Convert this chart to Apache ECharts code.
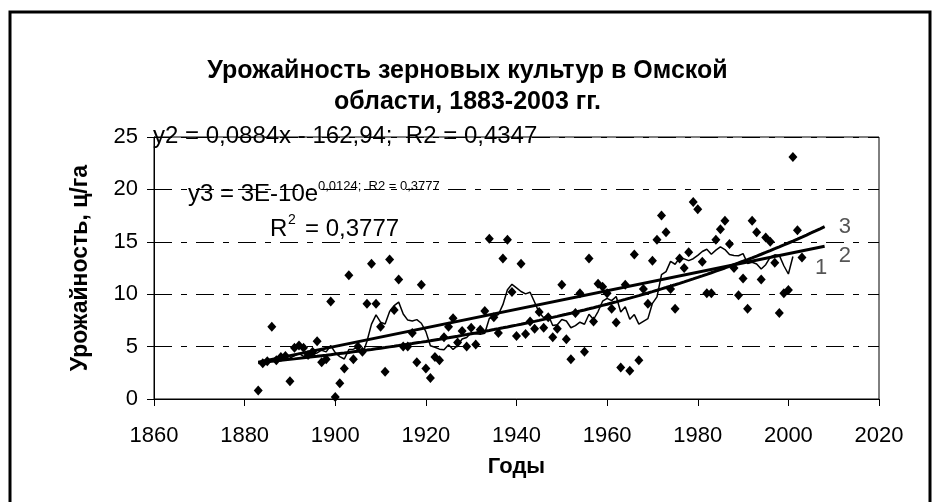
<!DOCTYPE html>
<html>
<head>
<meta charset="utf-8">
<script src="https://cdn.jsdelivr.net/npm/echarts@6/dist/echarts.min.js"></script>
<style>
  html, body { margin: 0; padding: 0; background: #fff; }
  #chart { width: 935px; height: 502px; }
</style>
</head>
<body>
<div id="chart"></div>
<script>
// Grain yield in Omsk region, 1883-2003 (centner per hectare)
const firstYear = 1883;
const yields = [
  // 1883-1889
  0.8, 3.4, 3.6, 6.9, 3.7, 4.0, 4.1,
  // 1890s
  1.7, 4.9, 5.1, 4.9, 4.2, 4.5, 5.5, 3.5, 3.8, 9.3,
  // 1900s
  0.2, 1.5, 2.9, 11.8, 3.8, 5.0, 4.5, 9.1, 12.9, 9.1,
  // 1910s
  6.9, 2.6, 13.3, 8.5, 11.4, 5.0, 5.0, 6.3, 3.5, 10.9,
  // 1920s
  2.9, 2.0, 4.0, 3.7, 5.9, 6.9, 7.7, 5.4, 6.5, 5.0,
  // 1930s
  6.8, 5.2, 6.6, 8.4, 15.3, 7.8, 6.3, 13.4, 15.2, 10.2,
  // 1940s
  6.0, 12.9, 6.2, 7.4, 6.7, 8.3, 6.8, 7.8, 5.9, 6.7,
  // 1950s
  10.9, 5.7, 3.8, 8.2, 10.1, 4.5, 13.4, 7.4, 11.0, 10.7,
  // 1960s
  10.1, 8.6, 7.3, 3.0, 10.9, 2.7, 13.8, 3.7, 10.5, 9.1,
  // 1970s
  13.2, 15.2, 17.5, 15.9, 10.5, 8.6, 13.4, 12.5, 14.0, 18.8,
  // 1980s
  18.1, 13.1, 10.1, 10.1, 15.2, 16.2, 17.0, 14.8, 12.5, 9.9,
  // 1990s
  11.5, 8.6, 17.0, 15.9, 11.4, 15.4, 15.0, 13.0, 8.2, 10.1,
  // 2000-2003
  10.4, 23.1, 16.1, 13.5
];
const years = yields.map((_, i) => firstYear + i);

// Trend settings
const linearCoef = [0.0884, -162.94];     // y = k*x + b, as printed on the chart
const trendRange = [1883, 2008];          // fitted range plus 5-year forecast
const maPeriod = 7;                       // trailing 7-year moving average
const maLastYear = 2001;

const xTicks = [1860, 2020, 20];
const yTicks = [0, 25, 5];

// --- derived series -------------------------------------------------------
const points = years.map((y, i) => [y, yields[i]]);

const movingAvg = [];
for (let i = maPeriod - 1; i < yields.length && years[i] <= maLastYear; i++) {
  let s = 0;
  for (let j = i - maPeriod + 1; j <= i; j++) s += yields[j];
  movingAvg.push([years[i], s / maPeriod]);
}

const linearTrend = trendRange.map(x => [x, linearCoef[0] * x + linearCoef[1]]);

// exponential least-squares fit on ln(y)
const meanX = years.reduce((a, b) => a + b, 0) / years.length;
const lnY = yields.map(v => Math.log(v));
const meanL = lnY.reduce((a, b) => a + b, 0) / lnY.length;
let sxy = 0, sxx = 0;
years.forEach((x, i) => { sxy += (x - meanX) * (lnY[i] - meanL); sxx += (x - meanX) * (x - meanX); });
const expRate = sxy / sxx;
const expTrend = [];
for (let x = trendRange[0]; x <= trendRange[1]; x++) {
  expTrend.push([x, Math.exp(meanL + expRate * (x - meanX))]);
}

// --- chart ----------------------------------------------------------------
const FONT = "'Liberation Sans', Arial, sans-serif";
const chart = echarts.init(document.getElementById('chart'), null, { renderer: 'canvas' });

chart.setOption({
  animation: false,
  backgroundColor: '#fff',
  textStyle: { fontFamily: FONT, color: '#000' },
  title: {
    text: 'Урожайность зерновых культур в Омской\nобласти, 1883-2003 гг.',
    left: 'center',
    top: 56,
    padding: 0,
    textStyle: { fontFamily: FONT, fontSize: 25, fontWeight: 'bold', color: '#000', lineHeight: 31 }
  },
  grid: {
    left: 154, top: 137, right: 56, bottom: 103,
    show: true, borderColor: '#000', borderWidth: 1, backgroundColor: 'transparent',
    outerBoundsMode: 'none'
  },
  xAxis: {
    type: 'value',
    min: xTicks[0], max: xTicks[1], interval: xTicks[2],
    name: 'Годы',
    nameLocation: 'middle',
    nameGap: 57,
    nameTextStyle: { fontFamily: FONT, fontSize: 22, fontWeight: 'bold', color: '#000' },
    axisLine: { show: true, onZero: false, lineStyle: { color: '#000', width: 1 } },
    axisTick: { show: true, inside: false, length: 7, lineStyle: { color: '#000' } },
    axisLabel: { fontFamily: FONT, fontSize: 22, color: '#000', margin: 26, formatter: v => String(v) },
    splitLine: { show: false }
  },
  yAxis: {
    type: 'value',
    min: yTicks[0], max: yTicks[1], interval: yTicks[2],
    name: 'Урожайность, ц/га',
    nameLocation: 'middle',
    nameGap: 62,
    nameTextStyle: { fontFamily: FONT, fontSize: 23, fontWeight: 'bold', color: '#000' },
    axisLine: { show: true, lineStyle: { color: '#000', width: 1 } },
    axisTick: { show: true, inside: false, length: 7, lineStyle: { color: '#000' } },
    axisLabel: { fontFamily: FONT, fontSize: 22, color: '#000', margin: 16 },
    splitLine: { show: true, lineStyle: { color: '#000', width: 1, type: [18, 9, 6, 9] } }
  },
  series: [
    {
      name: 'yield',
      type: 'scatter',
      data: points,
      symbol: 'diamond',
      symbolSize: [9, 10],
      itemStyle: { color: '#000', opacity: 1 },
      z: 3
    },
    {
      name: 'moving average',
      type: 'line',
      data: movingAvg,
      showSymbol: false,
      lineStyle: { color: '#000', width: 1.5 },
      endLabel: { show: true, formatter: '1', color: '#555', fontFamily: FONT, fontSize: 22, offset: [14, 11] },
      z: 4
    },
    {
      name: 'linear trend',
      type: 'line',
      data: linearTrend,
      showSymbol: false,
      lineStyle: { color: '#000', width: 3 },
      endLabel: { show: true, formatter: '2', color: '#555', fontFamily: FONT, fontSize: 22, offset: [6, 10] },
      z: 5
    },
    {
      name: 'exponential trend',
      type: 'line',
      data: expTrend,
      showSymbol: false,
      lineStyle: { color: '#000', width: 3 },
      endLabel: { show: true, formatter: '3', color: '#555', fontFamily: FONT, fontSize: 22, offset: [6, 0] },
      z: 5
    }
  ],
  graphic: [
    {
      type: 'rect', silent: true, z: 100,
      shape: { x: 10, y: 12, width: 920, height: 520 },
      style: { fill: 'none', stroke: '#000', lineWidth: 3 }
    },
    {
      type: 'text', silent: true, x: 153, y: 136, z: 50,
      style: { text: 'y2 = 0,0884x - 162,94;  R2 = 0,4347', font: '24px ' + FONT, fill: '#000', textVerticalAlign: 'middle' }
    },
    {
      type: 'text', silent: true, x: 188, y: 194, z: 50,
      style: { text: 'y3 = 3E-10e', font: '24px ' + FONT, fill: '#000', textVerticalAlign: 'middle' }
    },
    {
      type: 'text', silent: true, x: 318, y: 186, z: 50,
      style: { text: '0,0124;  R2 = 0,3777', font: '13px ' + FONT, fill: '#000', textVerticalAlign: 'middle' }
    },
    {
      type: 'text', silent: true, x: 270, y: 229, z: 50,
      style: { text: 'R', font: '24px ' + FONT, fill: '#000', textVerticalAlign: 'middle' }
    },
    {
      type: 'text', silent: true, x: 288, y: 220, z: 50,
      style: { text: '2', font: '14px ' + FONT, fill: '#000', textVerticalAlign: 'middle' }
    },
    {
      type: 'text', silent: true, x: 305, y: 229, z: 50,
      style: { text: '= 0,3777', font: '24px ' + FONT, fill: '#000', textVerticalAlign: 'middle' }
    }
  ]
});
</script>
</body>
</html>
